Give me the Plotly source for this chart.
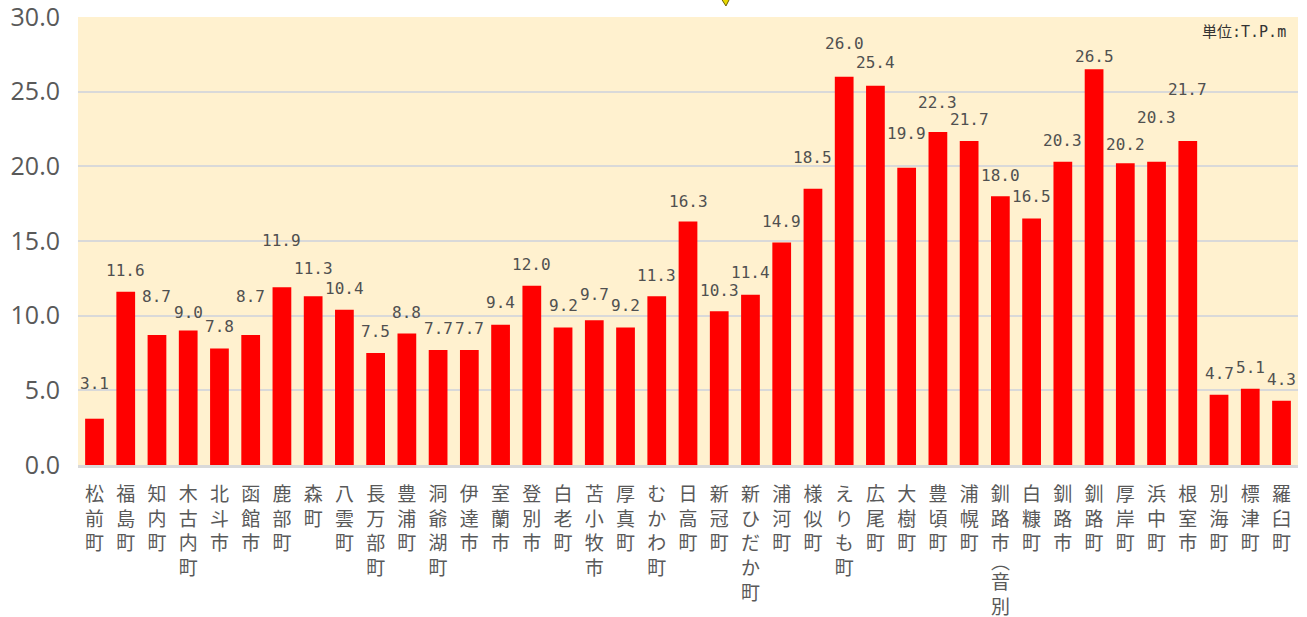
import plotly.graph_objects as go

towns = ["松前町", "福島町", "知内町", "木古内町", "北斗市", "函館市", "鹿部町", "森町", "八雲町", "長万部町",
         "豊浦町", "洞爺湖町", "伊達市", "室蘭市", "登別市", "白老町", "苫小牧市", "厚真町", "むかわ町", "日高町",
         "新冠町", "新ひだか町", "浦河町", "様似町", "えりも町", "広尾町", "大樹町", "豊頃町", "浦幌町", "釧路市︵音別︶",
         "白糠町", "釧路市", "釧路町", "厚岸町", "浜中町", "根室市", "別海町", "標津町", "羅臼町"]
heights = [3.1, 11.6, 8.7, 9.0, 7.8, 8.7, 11.9, 11.3, 10.4, 7.5,
           8.8, 7.7, 7.7, 9.4, 12.0, 9.2, 9.7, 9.2, 11.3, 16.3,
           10.3, 11.4, 14.9, 18.5, 26.0, 25.4, 19.9, 22.3, 21.7, 18.0,
           16.5, 20.3, 26.5, 20.2, 20.3, 21.7, 4.7, 5.1, 4.3]
# vertical pixel offsets of value labels above bar tops (style)
label_shift = [35, 21, 39, 18, 22, 39, 47, 28, 21, 22,
               21, 22, 22, 22, 21, 22, 26, 22, 21, 20,
               21, 22, 21, 31, 33, 23, 34, 29, 21, 21,
               22, 21, 13, 19, 44, 51, 21, 21, 21]
unit_text = "単位:T.P.m"
y_ticks = [0, 5, 10, 15, 20, 25, 30]

label_font = dict(family="Noto Sans CJK JP", size=19, color="#595959")

# vertical tick labels; a parenthesised suffix is drawn separately so the
# half-height bracket sits tight like in the original
tick_text = []
suffixes = []
for t in towns:
    if "︵" in t:
        main, rest = t.split("︵", 1)
        tick_text.append("<br>".join(main))
        suffixes.append((t, rest))
    else:
        tick_text.append("<br>".join(t))

fig = go.Figure()
fig.add_trace(go.Bar(
    x=towns, y=heights,
    marker=dict(color="#FF0000", line=dict(width=0)),
    hoverinfo="x+y",
))

for t, h, s in zip(towns, heights, label_shift):
    fig.add_annotation(
        x=t, y=h, text=f"{h:.1f}", showarrow=False,
        yanchor="middle", yshift=s,
        font=dict(family="DejaVu Sans Mono, monospace", size=16, color="#505050"),
    )

for t, rest in suffixes:
    fig.add_annotation(
        x=t, xref="x", yref="paper", y=-0.2121, yanchor="middle",
        text="︵", showarrow=False, font=label_font,
    )
    fig.add_annotation(
        x=t, xref="x", yref="paper", y=-0.2232, yanchor="top",
        text="<br>".join(rest), showarrow=False, font=label_font,
    )

fig.add_annotation(
    xref="paper", yref="paper", x=0.9918, y=0.9665, xanchor="right", yanchor="middle",
    text=unit_text, showarrow=False,
    font=dict(family="DejaVu Sans Mono, Noto Sans CJK JP", size=15, color="#333333"),
)

# small decorative yellow marker at the top edge
fig.add_shape(
    type="path", xref="paper", yref="paper",
    path="M 0.5275 1.04 L 0.5340 1.04 L 0.5311 1.0246 Z",
    fillcolor="#E8D800", line=dict(color="#6B6200", width=1),
)

fig.update_layout(
    width=1307, height=617,
    margin=dict(l=78, r=9, t=17, b=152, autoexpand=False),
    paper_bgcolor="white",
    plot_bgcolor="#FFF1CF",
    bargap=0.4,
    showlegend=False,
    font=dict(family="Noto Sans CJK JP, Noto Sans", color="#595959"),
)
fig.update_xaxes(
    tickmode="array", tickvals=towns, ticktext=tick_text,
    tickangle=0, automargin=False, ticklabeloverflow="allow",
    tickfont=label_font,
    showline=True, linecolor="#D9D9D9", linewidth=3,
    showgrid=False, ticks="", ticklabelstandoff=10,
)
fig.update_yaxes(
    range=[0, 30], tickvals=y_ticks, ticktext=[f"{v:.1f}" for v in y_ticks],
    automargin=False, ticklabeloverflow="allow",
    tickfont=dict(family="Open Sans, Noto Sans", size=25, color="#595959"),
    showgrid=True, gridcolor="#D9D9D9", gridwidth=2,
    zeroline=False, showline=False, ticks="", ticklabelstandoff=17,
)

fig.write_html("out.html", config={"displayModeBar": False},
               post_script="document.body.style.margin='0';")
